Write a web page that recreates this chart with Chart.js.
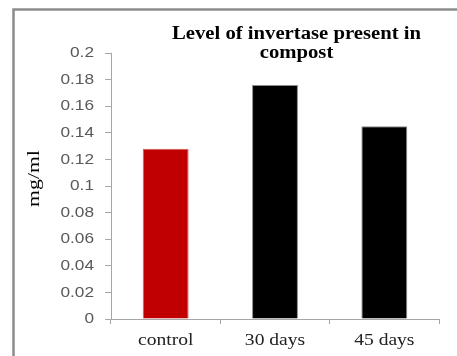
<!DOCTYPE html>
<html>
<head>
<meta charset="utf-8">
<script src="https://cdn.jsdelivr.net/npm/chart.js@4.4.1/dist/chart.umd.min.js"></script>
<style>
  html, body { margin: 0; padding: 0; background: #ffffff; overflow: hidden; }
  #c { display: block; }
</style>
</head>
<body>
<canvas id="c" width="457" height="356"></canvas>
<script>
// Invertase level per compost sample
const categories = ['control', '30 days', '45 days'];
const invertase = [0.128, 0.176, 0.145];
const barColors = ['#c00000', '#000000', '#000000'];
const barEdges = ['#d85a5a', '#8a8a8a', '#8a8a8a'];

// Value axis
const yTickValues = [0, 0.02, 0.04, 0.06, 0.08, 0.1, 0.12, 0.14, 0.16, 0.18, 0.2];
const yTickLabels = ['0', '0.02', '0.04', '0.06', '0.08', '0.1', '0.12', '0.14', '0.16', '0.18', '0.2'];

const titleLines = ['Level of invertase present in', 'compost'];
const yAxisTitle = 'mg/ml';

// All text on this chart is set slightly wide.
const WIDEN = 1.15;
const canvas = document.getElementById('c');
const ctx = canvas.getContext('2d');
const plainFillText = ctx.fillText;
ctx.fillText = function (text, x, y) {
  this.save();
  this.translate(x, y);
  this.scale(WIDEN, 1);
  plainFillText.call(this, text, 0, 0);
  this.restore();
};

const GRAY = '#a6a6a6';

const decorations = {
  id: 'decorations',
  beforeDraw(chart) {
    const c = chart.ctx;
    // frame around the figure (top and left edges)
    c.save();
    c.strokeStyle = '#8c8c8c';
    c.lineWidth = 2.5;
    c.beginPath();
    c.moveTo(13.5, 360);
    c.lineTo(13.5, 9.5);
    c.lineTo(470, 9.5);
    c.stroke();
    c.restore();
  },
  afterDraw(chart) {
    const c = chart.ctx;
    c.save();
    // chart title, two lines
    c.fillStyle = '#000000';
    c.font = 'bold 18px "Liberation Serif"';
    c.textAlign = 'center';
    c.textBaseline = 'alphabetic';
    c.fillText(titleLines[0], 296.5, 38.5);
    c.fillText(titleLines[1], 296.5, 58);
    c.restore();

    // vertical axis title, tall letters
    c.save();
    c.fillStyle = '#000000';
    c.font = '16px "Liberation Serif"';
    c.textAlign = 'center';
    c.textBaseline = 'middle';
    c.translate(35, 178.5);
    c.rotate(-Math.PI / 2);
    c.scale(1.36, 1.0);
    plainFillText.call(c, yAxisTitle, 0, 0);
    c.restore();
  }
};

new Chart(ctx, {
  type: 'bar',
  data: {
    labels: categories,
    datasets: [{
      data: invertase,
      backgroundColor: barColors,
      borderColor: barEdges,
      borderWidth: 1,
      barPercentage: 0.42,
      categoryPercentage: 1
    }]
  },
  options: {
    responsive: false,
    animation: false,
    devicePixelRatio: 1,
    layout: { padding: { top: 53, right: 18, left: 0, bottom: 0 } },
    plugins: {
      legend: { display: false },
      tooltip: { enabled: false },
      title: { display: false }
    },
    scales: {
      x: {
        grid: { drawOnChartArea: false, drawTicks: true, tickLength: 5, color: GRAY, lineWidth: 1 },
        border: { color: GRAY, width: 1 },
        ticks: {
          font: { family: '"Liberation Serif"', size: 17 },
          color: '#222222',
          padding: 6
        },
        afterFit(scale) { scale.height = 37; }
      },
      y: {
        min: 0,
        max: 0.2,
        afterBuildTicks(scale) {
          scale.ticks = yTickValues.map(v => ({ value: v }));
        },
        ticks: {
          font: { family: '"Liberation Sans"', size: 15 },
          color: '#595959',
          padding: 11,
          callback: (value, index) => yTickLabels[index]
        },
        grid: { drawOnChartArea: false, drawTicks: true, tickLength: 6, color: GRAY, lineWidth: 1 },
        border: { color: GRAY, width: 1 },
        afterFit(scale) { scale.width = 111; }
      }
    }
  },
  plugins: [decorations]
});
</script>
</body>
</html>
